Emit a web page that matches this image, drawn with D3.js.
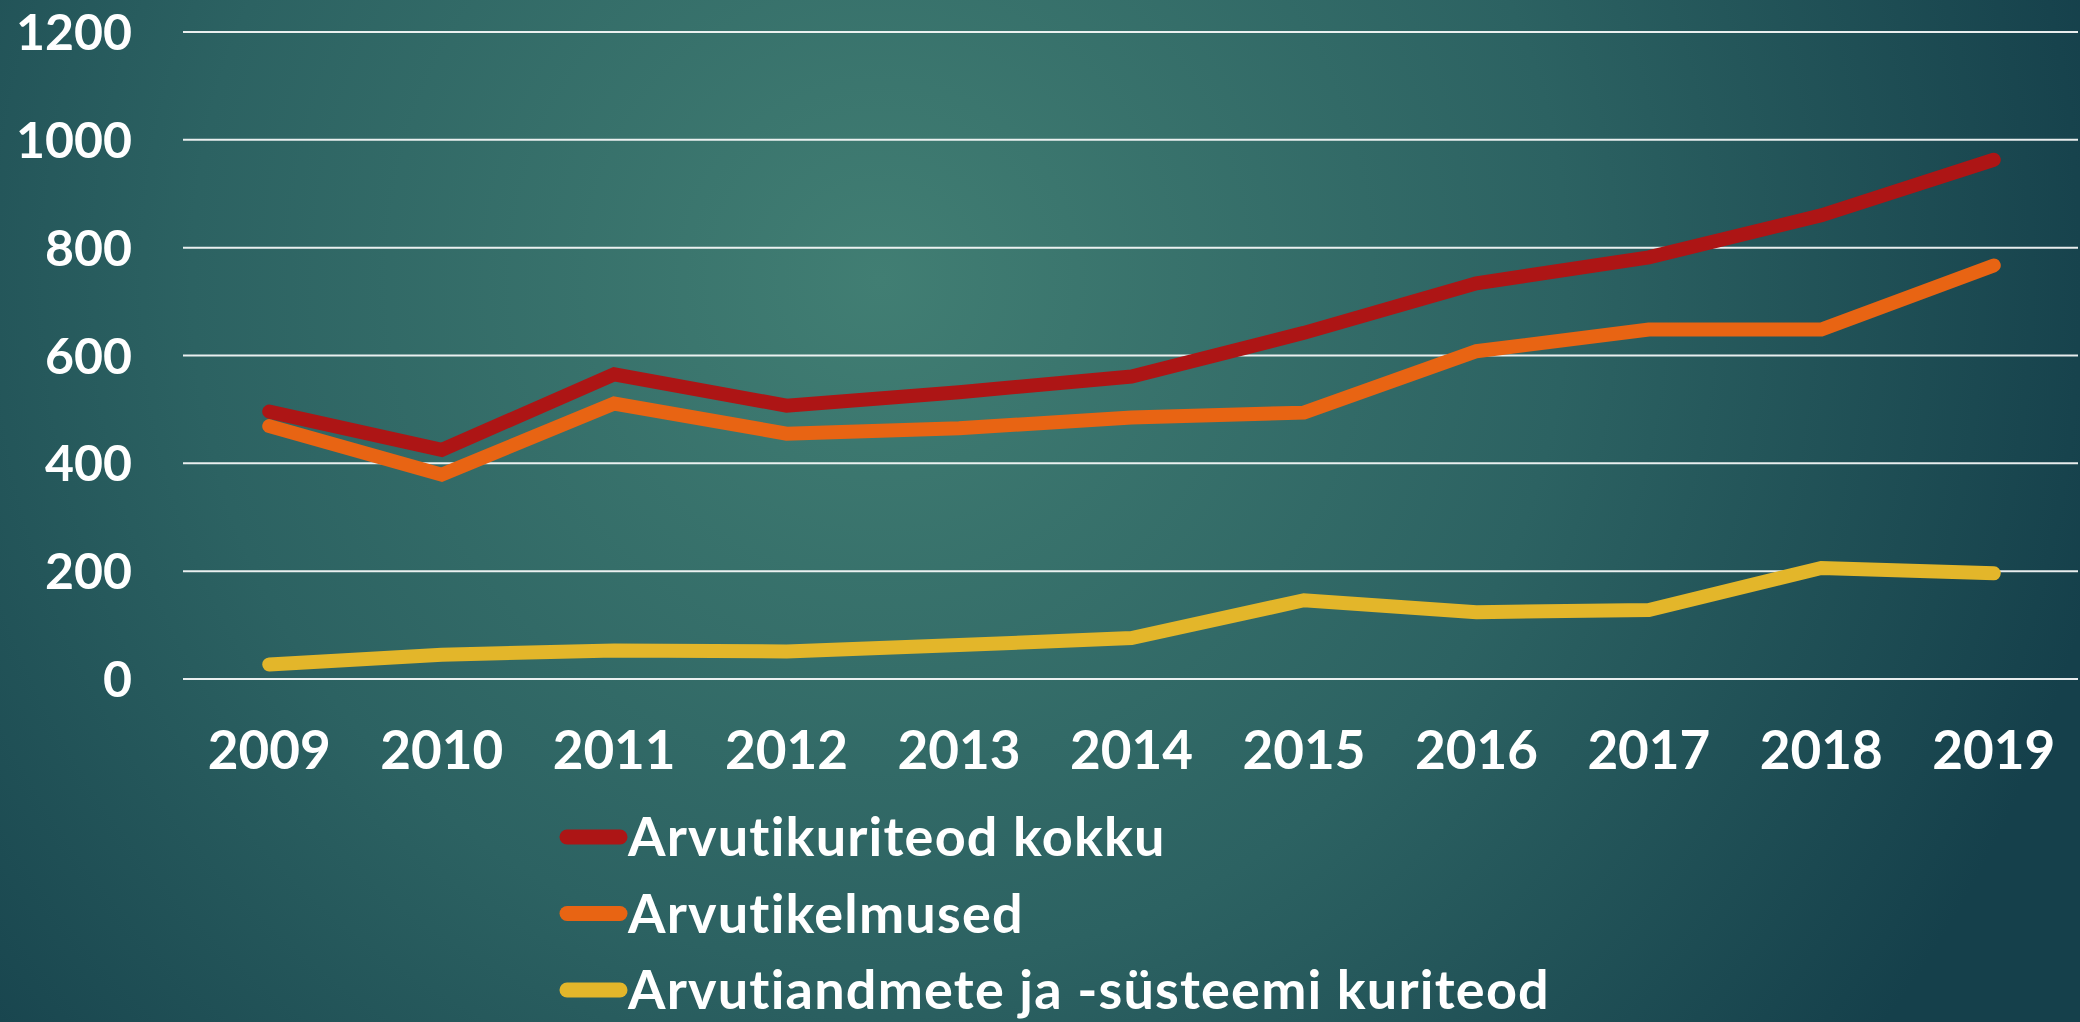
<!DOCTYPE html>
<html>
<head>
<meta charset="utf-8">
<script src="https://cdn.jsdelivr.net/npm/d3@7"></script>
<style>
    html, body { margin: 0; padding: 0; overflow: hidden; }
</style>
</head>
<body>
<div id="chart"></div>
<script>

/* Data */
var years = ["2009", "2010", "2011", "2012", "2013", "2014", "2015", "2016", "2017", "2018", "2019"];
var kokku = [496, 425, 565, 507, 532, 561, 642, 734, 782, 860, 963];
var kelmused = [469, 379, 511, 455, 465, 485, 494, 608, 648, 648, 767];
var systeemi = [27, 45, 53, 51, 63, 76, 146, 124, 128, 206, 196];
var seriesNames = ["Arvutikuriteod kokku", "Arvutikelmused", "Arvutiandmete ja -süsteemi kuriteod"];
var yTicks = [0, 200, 400, 600, 800, 1000, 1200];

function drawChart(elementID) {

    /* Initial value */
    var width = 2080,
        height = 1022,
        fontFamily = "Lato, 'Open Sans', sans-serif",
        colors = ["#ad1515", "#e86413", "#e3b62a"];

    var series = [kokku, kelmused, systeemi];

    /* Overall SVG Container */
    var svg = d3.select(elementID)
                .append("svg")
                .attr("width", width)
                .attr("height", height);

    /* Background gradient */
    var grad = svg.append("defs").append("radialGradient")
        .attr("id", "bg")
        .attr("gradientUnits", "userSpaceOnUse")
        .attr("cx", 880)
        .attr("cy", 280)
        .attr("r", 1250);
    grad.append("stop").attr("offset", 0).attr("stop-color", "#417e73");
    grad.append("stop").attr("offset", 0.55).attr("stop-color", "#2c6262");
    grad.append("stop").attr("offset", 1).attr("stop-color", "#15404b");

    svg.append("rect")
        .attr("width", width)
        .attr("height", height)
        .attr("fill", "url(#bg)");

    /* Scales */
    var x = d3.scalePoint()
        .domain(years)
        .range([183, 2080])
        .padding(0.5);

    var y = d3.scaleLinear()
        .domain([0, 1200])
        .range([679, 32]);

    /* Gridlines */
    svg.append("g")
        .selectAll("line")
        .data(yTicks)
        .enter().append("line")
        .attr("x1", 183)
        .attr("x2", 2078)
        .attr("y1", function(d) { return y(d); })
        .attr("y2", function(d) { return y(d); })
        .attr("stroke", "#ffffff")
        .attr("stroke-width", 2)
        .attr("opacity", 0.9);

    /* Y labels */
    svg.append("g")
        .selectAll("text")
        .data(yTicks)
        .enter().append("text")
        .attr("x", 132)
        .attr("y", function(d) { return y(d); })
        .attr("dy", "0.36em")
        .attr("text-anchor", "end")
        .attr("font-family", fontFamily)
        .attr("font-weight", "bold")
        .attr("font-size", 50)
        .attr("fill", "#ffffff")
        .text(function(d) { return d; });

    /* X labels */
    svg.append("g")
        .selectAll("text")
        .data(years)
        .enter().append("text")
        .attr("x", function(d) { return x(d); })
        .attr("y", 769)
        .attr("text-anchor", "middle")
        .attr("font-family", fontFamily)
        .attr("font-weight", "bold")
        .attr("font-size", 53)
        .attr("fill", "#ffffff")
        .text(function(d) { return d; });

    /* Lines */
    var line = d3.line()
        .x(function(d, i) { return x(years[i]); })
        .y(function(d) { return y(d); });

    svg.append("g")
        .selectAll("path")
        .data(series)
        .enter().append("path")
        .attr("d", line)
        .attr("fill", "none")
        .attr("stroke", function(d, i) { return colors[i]; })
        .attr("stroke-width", 14)
        .attr("stroke-linecap", "round")
        .attr("stroke-linejoin", "miter");

    /* Legend */
    var legend = svg.append("g")
        .selectAll("g")
        .data(seriesNames)
        .enter().append("g")
        .attr("transform", function(d, i) { return "translate(560," + (837 + i * 76.5) + ")"; });

    legend.append("line")
        .attr("x1", 7)
        .attr("x2", 60)
        .attr("stroke", function(d, i) { return colors[i]; })
        .attr("stroke-width", 15)
        .attr("stroke-linecap", "round");

    legend.append("text")
        .attr("x", 68)
        .attr("dy", "0.36em")
        .attr("font-family", fontFamily)
        .attr("font-weight", "bold")
        .attr("font-size", 54)
        .attr("letter-spacing", 1.2)
        .attr("fill", "#ffffff")
        .text(function(d) { return d; });
}

drawChart("#chart");

</script>
</body>
</html>
